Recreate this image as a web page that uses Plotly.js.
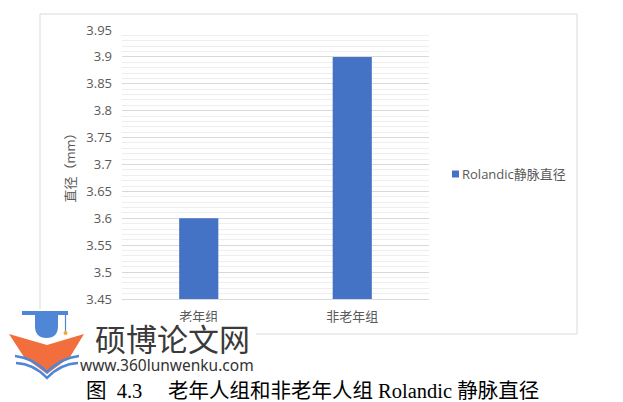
<!DOCTYPE html>
<html>
<head>
<meta charset="utf-8">
<script src="https://cdn.plot.ly/plotly-3.0.1.min.js"></script>
<style>
  html, body { margin: 0; padding: 0; background: #fff; }
  #chart { width: 623px; height: 402px; }
</style>
</head>
<body>
<div id="chart"></div>
<script>
// data
var categories = ['老年组', '非老年组'];
var diameters = [3.6, 3.9];
var seriesName = 'Rolandic静脉直径';
var yTickVals = [3.45, 3.5, 3.55, 3.6, 3.65, 3.7, 3.75, 3.8, 3.85, 3.9, 3.95];
var yTickText = ['3.45', '3.5', '3.55', '3.6', '3.65', '3.7', '3.75', '3.8', '3.85', '3.9', '3.95'];
var yTitle = '直径（mm）';
var caption = '图\u00a0\u00a04.3\u00a0\u00a0\u00a0\u00a0\u00a0老年人组和非老年人组 Rolandic 静脉直径';
var siteName = '硕博论文网';
var siteUrl = 'www.360lunwenku.com';

// plot area in pixels, used to place the frame / legend / watermark
var L = 122, R = 429, T = 30, B = 299;
function px(x) { return (x - L) / (R - L); }
function py(y) { return (B - y) / (B - T); }
function path(pts) {
    var s = '';
    for (var i = 0; i < pts.length; i++) {
        var p = pts[i];
        if (typeof p === 'string') { s += p; continue; }
        s += px(p[0]) + ',' + py(p[1]) + ' ';
    }
    return s;
}

var font = 'Open Sans, Noto Sans CJK SC, sans-serif';
var grey = '#595959';
var barColor = '#4472c4';
var blue = '#4f86d6';
var orange = '#f26e3c';

var trace = {
    x: categories,
    y: diameters,
    type: 'bar',
    name: seriesName,
    marker: { color: barColor },
    showlegend: false
};

var shapes = [
    // chart frame
    { type: 'rect', xref: 'paper', yref: 'paper', layer: 'below',
      x0: px(40), x1: px(577), y0: py(334), y1: py(14),
      line: { color: '#d9d9d9', width: 1 }, fillcolor: 'rgba(0,0,0,0)' },
    // legend key (excel style small square)
    { type: 'rect', xref: 'paper', yref: 'paper', layer: 'above',
      x0: px(452), x1: px(459), y0: py(177.5), y1: py(170.5),
      line: { width: 0 }, fillcolor: barColor },
    // watermark background
    { type: 'rect', xref: 'paper', yref: 'paper', layer: 'above',
      x0: px(4), x1: px(90), y0: py(380), y1: py(309),
      line: { width: 0 }, fillcolor: '#ffffff' },
    { type: 'rect', xref: 'paper', yref: 'paper', layer: 'above',
      x0: px(85), x1: px(256), y0: py(380), y1: py(322),
      line: { width: 0 }, fillcolor: '#ffffff' },
    // cap
    { type: 'rect', xref: 'paper', yref: 'paper', layer: 'above',
      x0: px(22), x1: px(68), y0: py(315), y1: py(311),
      line: { width: 0 }, fillcolor: blue },
    { type: 'path', xref: 'paper', yref: 'paper', layer: 'above',
      path: path(['M', [35, 315], 'L', [35, 326], 'Q', [35, 338], [46.5, 338], 'Q', [58, 338], [58, 326], 'L', [58, 315], 'Z']),
      line: { width: 0 }, fillcolor: blue },
    { type: 'line', xref: 'paper', yref: 'paper', layer: 'above',
      x0: px(65.5), x1: px(65.5), y0: py(315), y1: py(331),
      line: { color: blue, width: 1.2 } },
    { type: 'circle', xref: 'paper', yref: 'paper', layer: 'above',
      x0: px(63.5), x1: px(67.5), y0: py(335), y1: py(331),
      line: { width: 0 }, fillcolor: '#f5a623' },
    // open book
    { type: 'path', xref: 'paper', yref: 'paper', layer: 'above',
      path: path(['M', [9, 334], 'L', [47, 345], 'L', [84, 334], 'L', [70, 357], 'L', [47, 374], 'L', [24, 357], 'Z']),
      line: { width: 0 }, fillcolor: orange },
    { type: 'path', xref: 'paper', yref: 'paper', layer: 'above',
      path: path(['M', [15, 356], 'Q', [33, 358], [47, 372], 'Q', [61, 358], [79, 356]]),
      line: { color: blue, width: 2.5 }, fillcolor: 'rgba(0,0,0,0)' },
    { type: 'path', xref: 'paper', yref: 'paper', layer: 'above',
      path: path(['M', [16, 363], 'Q', [34, 364], [47, 378], 'Q', [60, 364], [78, 363]]),
      line: { color: blue, width: 2.5 }, fillcolor: 'rgba(0,0,0,0)' }
];

var annotations = [
    // legend text
    { xref: 'paper', yref: 'paper', x: px(460), y: py(174), xanchor: 'left', yanchor: 'middle',
      text: seriesName, showarrow: false,
      font: { family: font, size: 13, color: grey } },
    { xref: 'paper', yref: 'paper', x: px(172), y: py(337), xanchor: 'center', yanchor: 'middle',
      text: siteName, showarrow: false,
      font: { family: 'Noto Sans CJK SC, sans-serif', size: 31, color: '#3a3a3a' } },
    { xref: 'paper', yref: 'paper', x: px(167), y: py(365), xanchor: 'center', yanchor: 'middle',
      text: siteUrl, showarrow: false,
      font: { family: 'Noto Sans, sans-serif', size: 15.5, color: '#333333' } },
    { xref: 'paper', yref: 'paper', x: px(312), y: py(391), xanchor: 'center', yanchor: 'middle',
      text: caption, showarrow: false,
      font: { family: 'Liberation Serif, Noto Sans CJK SC, serif', size: 20.5, color: '#000000' } }
];

var layout = {
    width: 623,
    height: 402,
    margin: { l: L, r: 623 - R, t: T, b: 402 - B, pad: 0 },
    paper_bgcolor: '#ffffff',
    plot_bgcolor: '#ffffff',
    font: { family: font, size: 13, color: grey },
    bargap: 0.745,
    showlegend: false,
    xaxis: {
        type: 'category',
        showgrid: false,
        showline: true,
        linecolor: '#d9d9d9',
        ticks: '',
        ticklabelstandoff: 5,
        tickfont: { family: font, size: 13, color: grey },
        fixedrange: true
    },
    yaxis: {
        range: [3.45, 3.95],
        tickvals: yTickVals,
        ticktext: yTickText,
        showline: false,
        zeroline: false,
        gridcolor: '#d9d9d9',
        gridwidth: 1,
        minor: { dtick: 0.01, showgrid: true, gridcolor: '#eeeeee', gridwidth: 1, ticks: '' },
        ticks: '',
        ticklabelstandoff: 9,
        tickfont: { family: font, size: 13, color: grey },
        title: { text: yTitle, standoff: 7, font: { family: font, size: 13, color: grey } },
        fixedrange: true
    },
    shapes: shapes,
    annotations: annotations
};

Plotly.newPlot('chart', [trace], layout, { staticPlot: true, displayModeBar: false });
</script>
</body>
</html>
